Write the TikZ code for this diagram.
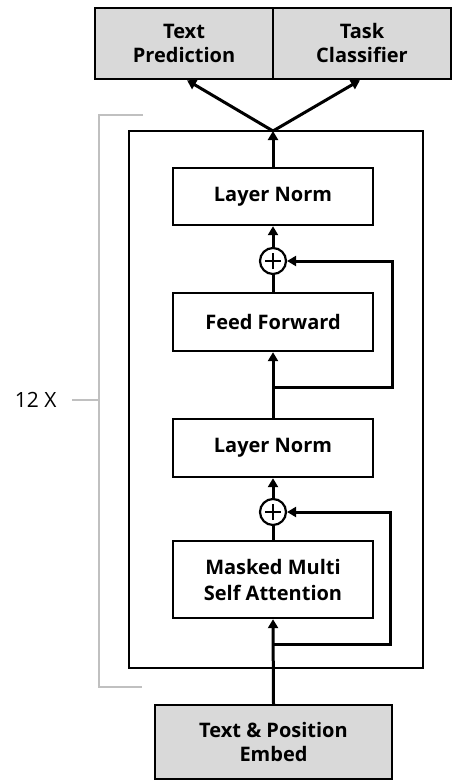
\documentclass[tikz,border=0pt]{standalone}
\usepackage{fontspec}
\setmainfont{Open Sans}
\usetikzlibrary{arrows.meta,calc}

\definecolor{boxgray}{HTML}{D9D9D9}
\definecolor{bracketgray}{HTML}{C0C0C0}

\tikzset{
  blk/.style={draw, line width=2.4pt, fill=white, minimum width=200pt,
    minimum height=57pt, inner sep=0pt, align=center,
    font=\bfseries\fontsize{20}{24}\selectfont},
  iobox/.style={blk, fill=boxgray},
  sumnode/.style={circle, draw, line width=2.2pt, minimum size=26pt, inner sep=0pt,
    path picture={
      \draw[line width=2pt] ([xshift=-8pt]path picture bounding box.center) -- ([xshift=8pt]path picture bounding box.center);
      \draw[line width=2pt] ([yshift=-8pt]path picture bounding box.center) -- ([yshift=8pt]path picture bounding box.center);
    }},
  flow/.style={line width=3pt, -{Triangle[length=9pt,width=10pt]}},
  wire/.style={line width=3pt},
  frame/.style={draw, line width=2pt},
  bracket/.style={draw=bracketgray, line width=2pt},
}

\begin{document}
\begin{tikzpicture}[x=1pt,y=-1pt]
  \useasboundingbox (0,0) rectangle (453,781);

  % repeated transformer block frame
  \node[frame, minimum width=294pt, minimum height=537pt, inner sep=0pt] (blockframe) at (275.5,399.5) {};

  % output heads
  \node[iobox, minimum width=178pt, minimum height=71pt] (pred) at (184,43.5) {Text\\Prediction};
  \node[iobox, minimum width=178pt, minimum height=71pt] (cls) at (362,43.5) {Task\\Classifier};

  % block layers
  \node[blk] (ln1) at (273,196.5) {Layer Norm};
  \node[sumnode] (add1) at (273,261) {};
  \node[blk, minimum height=58pt] (ff) at (273,322) {Feed Forward};
  \node[blk, minimum height=58pt] (ln2) at (273,448) {Layer Norm};
  \node[sumnode] (add2) at (273,512) {};
  \node[blk, minimum height=77pt, font=\bfseries\fontsize{20}{26}\selectfont] (msa) at (273,579.5) {Masked Multi\\Self Attention};

  % input embedding
  \node[iobox, minimum width=237pt, minimum height=74pt] (embed) at (273.5,742) {Text \& Position\\Embed};

  % connector points
  \coordinate (split) at (273,131);
  \coordinate (tap1) at (273,387);
  \coordinate (tap2) at (273,644);

  % main flow
  \draw[flow] (embed.north) -- (msa.south);
  \draw[wire] (msa.north) -- (add2.south);
  \draw[flow] (add2.north) -- (ln2.south);
  \draw[flow] (ln2.north) -- (ff.south);
  \draw[wire] (ff.north) -- (add1.south);
  \draw[flow] (add1.north) -- (ln1.south);
  \draw[flow] (ln1.north) -- (split);
  \draw[flow] (split) -- ([xshift=3pt]pred.south);
  \draw[flow] (split) -- ([xshift=-2pt]cls.south);

  % residual connections
  \draw[flow, line join=miter] (tap1) -| (392,261) -- (add1.east);
  \draw[flow, line join=miter] (tap2) -| (390,512) -- (add2.east);

  % repetition bracket
  \draw[bracket] (143,115) -- (99,115) -- (99,687) -- (142,687);
  \coordinate (tickend) at (99,400);
  \node[font=\fontsize{21}{25}\selectfont, anchor=east] (reps) at (60,400) {12 X};
  \draw[bracket] (72,400) -- (tickend);
\end{tikzpicture}
\end{document}
